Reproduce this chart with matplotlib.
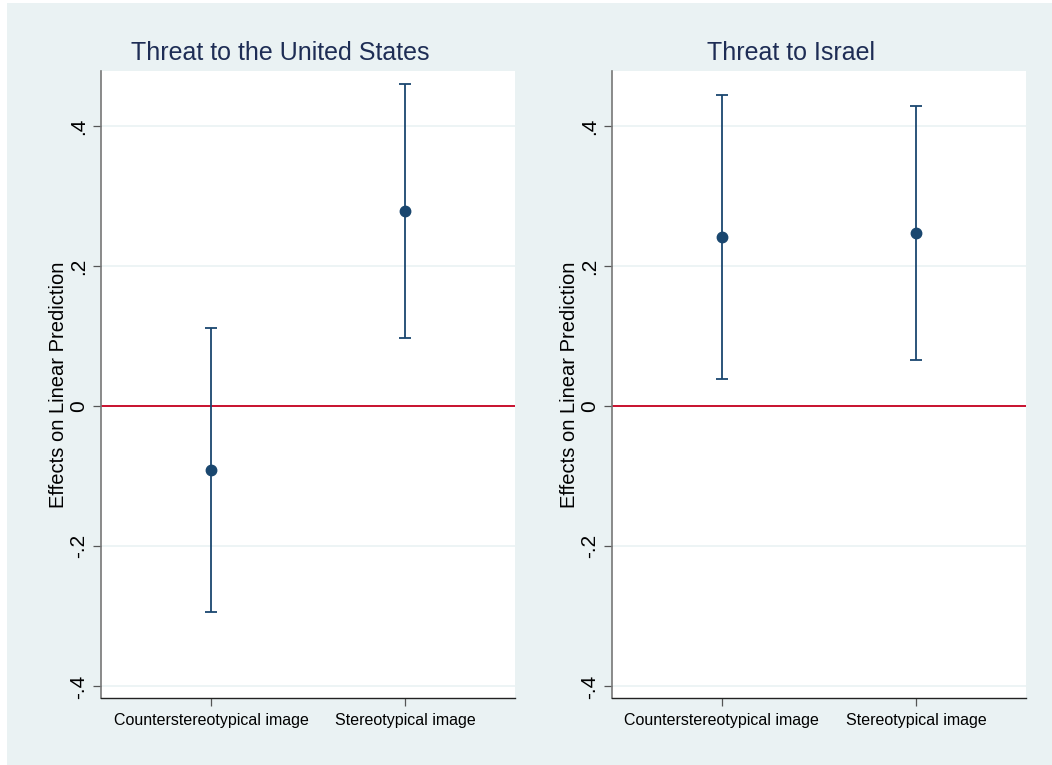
import matplotlib.pyplot as plt
from matplotlib.patches import Rectangle

plt.rcParams['font.family'] = ['Liberation Sans', 'DejaVu Sans']

categories = ['Counterstereotypical image', 'Stereotypical image']
titles = ['Threat to the United States', 'Threat to Israel']

# point estimates and 95% CI bounds per panel
us_est = [-0.091, 0.279]
us_lo = [-0.294, 0.097]
us_hi = [0.111, 0.460]

il_est = [0.241, 0.247]
il_lo = [0.039, 0.066]
il_hi = [0.444, 0.429]

yticks = [-0.4, -0.2, 0, 0.2, 0.4]
ytick_labels = ['-.4', '-.2', '0', '.2', '.4']

bg = '#EAF2F3'
navy = '#1A476F'

fig = plt.figure(figsize=(10.52, 7.65), dpi=100)
fig.patch.set_facecolor('white')
fig.patches.append(Rectangle((7 / 1052, 0), 1 - 7 / 1052, 1 - 3 / 765,
                             transform=fig.transFigure, facecolor=bg,
                             edgecolor='none', zorder=-10))

panels = [
    (0.0960, us_est, us_lo, us_hi, titles[0]),
    (0.5817, il_est, il_lo, il_hi, titles[1]),
]

x = [1, 2]
for left, est, lo, hi, title in panels:
    ax = fig.add_axes([left, 0.0876, 0.3935, 0.8196])
    ax.set_facecolor('white')
    ax.set_xlim(0.433, 2.567)
    ax.set_ylim(-0.4164, 0.4785)

    for yv in yticks:
        ax.axhline(yv, color=bg, lw=1.2, zorder=1)
    ax.axhline(0, color='#C8102E', lw=1.4, zorder=2)

    err = [[e - l for e, l in zip(est, lo)], [h - e for e, h in zip(est, hi)]]
    ax.errorbar(x, est, yerr=err, fmt='o', color=navy, ms=7.5,
                elinewidth=1.3, capsize=4.5, capthick=1.3, zorder=3)

    ax.set_xticks(x)
    ax.set_xticklabels(categories, fontsize=11.5)
    ax.set_yticks(yticks)
    ax.set_yticklabels(ytick_labels, rotation=90, va='center', fontsize=15)
    ax.tick_params(axis='both', direction='out', length=6, width=0.9,
                   color='#555555', pad=3)
    ax.tick_params(axis='x', pad=5)
    ax.set_ylabel('Effects on Linear Prediction', fontsize=14.5, labelpad=1)

    for s in ['top', 'right']:
        ax.spines[s].set_visible(False)
    ax.spines['left'].set_color('#777777')
    ax.spines['left'].set_linewidth(1.2)
    ax.spines['bottom'].set_color('#222222')
    ax.spines['bottom'].set_linewidth(1.0)

    cx = left + 0.3935 / 2 - 28 / 1052
    fig.text(cx, 1 - 53 / 765, title, ha='center', va='center',
             fontsize=18, color='#1E2D55')

fig.savefig('out.png', dpi=100, facecolor=fig.get_facecolor())
